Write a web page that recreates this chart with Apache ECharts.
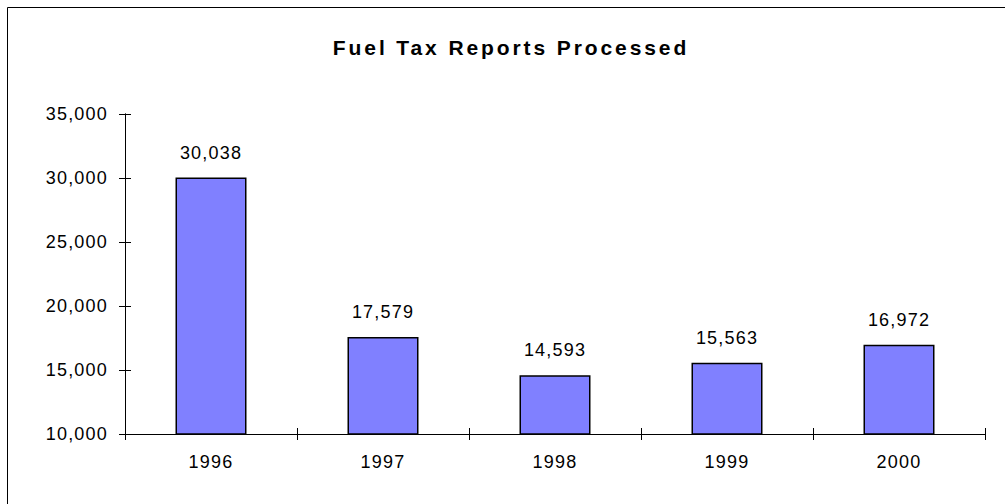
<!DOCTYPE html>
<html>
<head>
<meta charset="utf-8">
<script src="https://cdn.jsdelivr.net/npm/echarts@6/dist/echarts.min.js"></script>
<style>
  html, body { margin: 0; padding: 0; background: #fff; }
  #chart { width: 1005px; height: 504px; }
  /* spread the glyphs a little, like the original export */
  #chart text { letter-spacing: 1.2px; }
  #chart text[style*="bold"] { letter-spacing: 2.9px; }
</style>
</head>
<body>
<div id="chart"></div>
<script>
// data
const years = ["1996", "1997", "1998", "1999", "2000"];
const reports = [30038, 17579, 14593, 15563, 16972];
const yMin = 10000;
const yMax = 35000;
const yStep = 5000;

const font = "Liberation Sans";
const chart = echarts.init(document.getElementById("chart"), null, { renderer: "svg" });

const fmt = (v) => v.toLocaleString("en-US");

// the axis lines and ticks, drawn twice so the ticks cross the line
const xAxisBase = {
  type: "category",
  data: years,
  position: "bottom",
  axisLine: { lineStyle: { color: "#000", width: 1 } },
  splitLine: { show: false },
};
const yAxisBase = {
  type: "value",
  min: yMin,
  max: yMax,
  interval: yStep,
  position: "left",
  axisLine: { show: true, lineStyle: { color: "#000", width: 1 } },
  splitLine: { show: false },
};

chart.setOption({
  animation: false,
  backgroundColor: "#fff",
  textStyle: { fontFamily: font },
  title: {
    text: "Fuel Tax Reports Processed",
    left: 506,
    top: 32,
    textAlign: "center",
    textStyle: { fontFamily: font, fontSize: 21, fontWeight: "bold", color: "#000" },
  },
  graphic: [
    {
      type: "rect",
      shape: { x: 7.5, y: 7.5, width: 1100, height: 600 },
      style: { fill: "none", stroke: "#000", lineWidth: 1 },
      silent: true,
    },
  ],
  grid: { left: 125, right: 20, top: 114, bottom: 70, containLabel: false },
  xAxis: [
    Object.assign({}, xAxisBase, {
      axisTick: { show: true, length: 6, inside: false, lineStyle: { color: "#000" } },
      axisLabel: { color: "#000", fontSize: 18, margin: 19, fontFamily: font },
    }),
    Object.assign({}, xAxisBase, {
      axisTick: { show: true, length: 6, inside: true, lineStyle: { color: "#000" } },
      axisLabel: { show: false },
    }),
  ],
  yAxis: [
    Object.assign({}, yAxisBase, {
      axisTick: { show: true, length: 6, inside: false, lineStyle: { color: "#000" } },
      axisLabel: { color: "#000", fontSize: 18, margin: 17, fontFamily: font, formatter: fmt },
    }),
    Object.assign({}, yAxisBase, {
      axisTick: { show: true, length: 6, inside: true, lineStyle: { color: "#000" } },
      axisLabel: { show: false },
    }),
  ],
  series: [
    {
      type: "bar",
      data: reports,
      barWidth: 71,
      itemStyle: { color: "#8080FF", borderColor: "#000", borderWidth: 1.5 },
      label: {
        show: true,
        position: "top",
        distance: 16,
        color: "#000",
        fontSize: 18,
        fontFamily: font,
        formatter: (p) => fmt(p.value),
      },
    },
  ],
});
</script>
</body>
</html>
